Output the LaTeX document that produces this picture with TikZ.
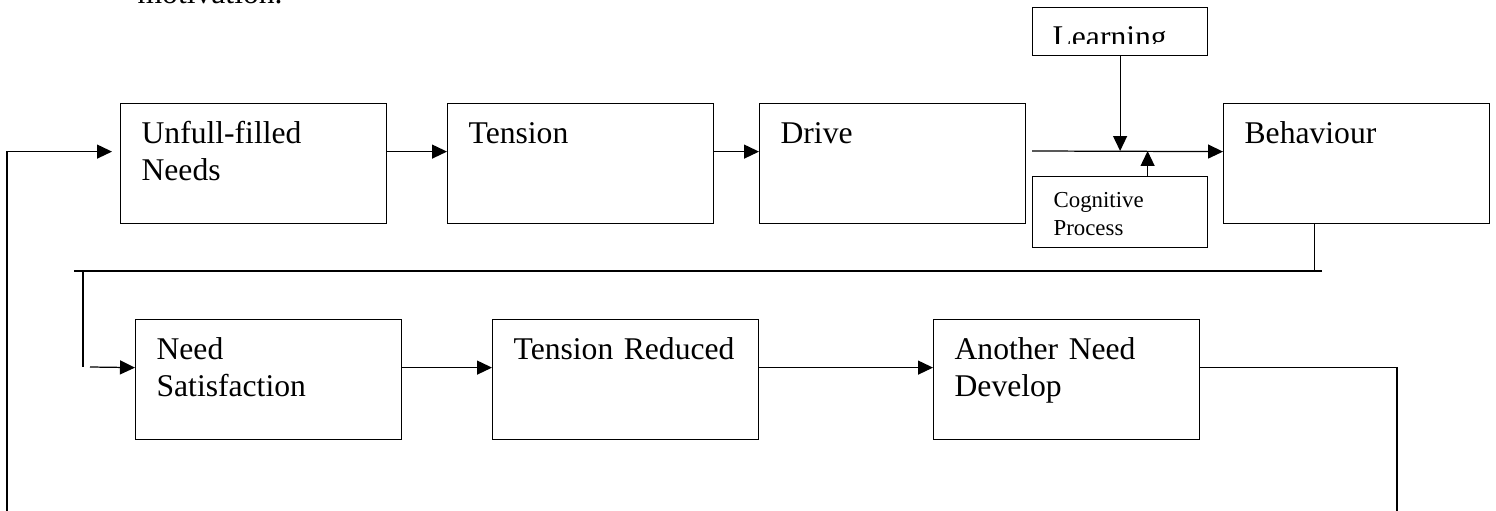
\documentclass[tikz,border=0pt]{standalone}
\usepackage{fontspec}
\setmainfont{Liberation Serif}
\usetikzlibrary{arrows.meta}

\begin{document}
\begin{tikzpicture}[x=0.02cm,y=-0.02cm,line width=0.7pt,
		box/.style={draw,anchor=north west,align=left,inner xsep=0.42cm,inner ysep=0pt,
			text width=4.48cm,text height=0.8cm,text depth=1.6cm,font=\fontsize{18}{21}\selectfont},
		arr/.style={-{Triangle[length=0.3cm,width=0.28cm]}}]
				\clip (0,0) rectangle (1496,510);
				\useasboundingbox (0,0) rectangle (1496,510);
				\node[anchor=base west,inner sep=0pt,font=\fontsize{18}{21}\selectfont] (motiv) at (137,3.5) {motivation.};

				\begin{scope}[every node/.style={box}]
					\node (unmet) at (120,103) {Unfull-filled\\Needs};
					\node (tension) at (447,103) {Tension};
					\node (drive) at (759,103) {Drive};
					\node (behav) at (1223,103) {Behaviour};
					\node (needsat) at (135,319) {Need\\Satisfaction};
					\node (reduced) at (492,319) {Tension Reduced};
					\node (another) at (933,319) {Another Need\\Develop};
				\end{scope}

				\begin{scope}
					\node[draw,anchor=north west,minimum width=3.5cm,minimum height=0.96cm,inner sep=0pt] (learn) at (1032,7) {};
					\node[draw,anchor=north west,align=left,inner xsep=0.42cm,inner ysep=0pt,text width=2.66cm,
						text height=0.62cm,text depth=0.8cm,font=\fontsize{13}{16}\selectfont] (cogn) at (1032,176) {Cognitive\\Process};
				\end{scope}

				\begin{scope}
					\clip (learn.north west) rectangle ([yshift=-0.73cm]learn.north east);
					\node[anchor=base west,inner sep=0pt,font=\fontsize{18}{21}\selectfont] (learntext)
						at ([xshift=0.4cm,yshift=-0.82cm]learn.north west) {Learning};
				\end{scope}

				\begin{scope}
					\coordinate (split) at (1032,151);
					\coordinate (loopL) at (7,512);
					\coordinate (loopR) at (1397,512);
					\coordinate (jR) at (1322,271);
					\coordinate (jL) at (74,271);
					\coordinate (dropT) at (83,271);
					\coordinate (dropB) at (83,367);
					\coordinate (feed) at (90,367);
				\end{scope}

				\begin{scope}
					\draw[arr] (loopL) |- ([xshift=-0.16cm,yshift=0.24cm]unmet.west);
					\draw[arr] ([yshift=.24cm]unmet.east) -- ([yshift=.24cm]tension.west);
					\draw[arr] ([yshift=.24cm]tension.east) -- ([yshift=.24cm]drive.west);
					\draw[arr] (split) -- ([yshift=.24cm]behav.west);
					\draw[arr] (learn.south) -- (learn.south |- split);
					\draw[arr] ([xshift=.55cm]cogn.north) -- ([xshift=.55cm]cogn.north |- split);
					\draw ([xshift=-0.84cm]behav.south) -- ([xshift=-0.84cm]behav.south |- jR);
					\draw (jR) -- (jL);
					\draw (dropT) -- (dropB);
					\draw[arr] (feed) -- ([yshift=.24cm]needsat.west);
					\draw[arr] ([yshift=.24cm]needsat.east) -- ([yshift=.24cm]reduced.west);
					\draw[arr] ([yshift=.24cm]reduced.east) -- ([yshift=.24cm]another.west);
					\draw ([yshift=.24cm]another.east) -| (loopR);
				\end{scope}
			\end{tikzpicture}
\end{document}
